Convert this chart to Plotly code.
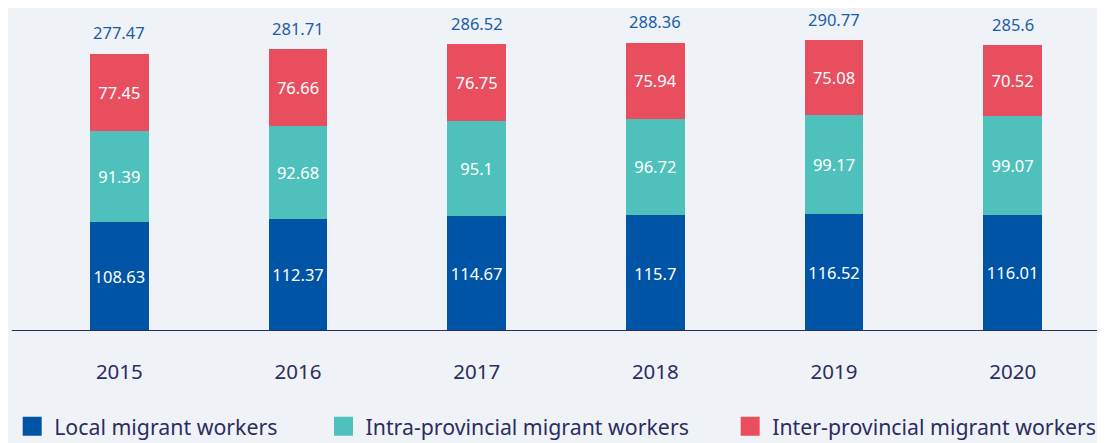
import plotly.graph_objects as go

years = ["2015", "2016", "2017", "2018", "2019", "2020"]
local = [108.63, 112.37, 114.67, 115.7, 116.52, 116.01]
intra = [91.39, 92.68, 95.1, 96.72, 99.17, 99.07]
inter = [77.45, 76.66, 76.75, 75.94, 75.08, 70.52]
totals = [277.47, 281.71, 286.52, 288.36, 290.77, 285.6]
series_names = ["Local migrant workers", "Intra-provincial migrant workers", "Inter-provincial migrant workers"]

colors = ["#0054a6", "#4fc1bd", "#e94e5f"]
bg = "#eff3f7"
navy = "#2d2c5f"
FONT = "Noto Sans, sans-serif"

# the page places the figure 8px from the top-left corner; size it to fit
W, H = 1097, 435

fig = go.Figure()
for vals, col in zip([local, intra, inter], colors):
    fig.add_trace(go.Bar(
        x=years, y=vals, marker=dict(color=col, line=dict(width=0)),
        text=[f"{v:g}" for v in vals], textposition="inside",
        insidetextanchor="middle",
        textfont=dict(color="white", size=16.5, family=FONT),
        showlegend=False, hoverinfo="skip",
    ))

legend_names = ["legend", "legend2", "legend3"]
for name, col, lg in zip(series_names, colors, legend_names):
    fig.add_trace(go.Scatter(
        x=[years[0]], y=[None], mode="markers", name=name, legend=lg,
        marker=dict(symbol="square", size=16, color=col, line=dict(color=col, width=3)),
    ))

for i, t in enumerate(totals):
    fig.add_annotation(x=i, y=t, text=f"{t:g}", showarrow=False,
                       yanchor="middle", yshift=21, borderpad=0,
                       font=dict(color="#1b5ea8", size=16.5, family=FONT))

fig.add_shape(type="line", xref="paper", yref="y", x0=-0.017, x1=1.01, y0=0, y1=0,
              line=dict(color=navy, width=2))

leg_common = dict(orientation="h", xref="container", yref="container",
                  yanchor="middle", y=0.038, xanchor="left", itemwidth=34,
                  font=dict(size=21.3, color=navy, family=FONT), bgcolor="rgba(0,0,0,0)")
fig.update_layout(
    width=W, height=H,
    margin=dict(l=22, r=3, t=23, b=112, autoexpand=False),
    paper_bgcolor=bg, plot_bgcolor=bg,
    barmode="stack", bargap=0.67,
    showlegend=True,
    legend=dict(x=0.002, **leg_common),
    legend2=dict(x=0.2858, **leg_common),
    legend3=dict(x=0.6565, **leg_common),
    xaxis=dict(type="category", categoryorder="array", categoryarray=years,
               range=[-0.5, len(years) - 0.5], autorange=False,
               showline=False, showgrid=False, zeroline=False, ticks="",
               tickfont=dict(size=20.5, color=navy, family=FONT), ticklabelstandoff=26),
    yaxis=dict(range=[0, 300], autorange=False, visible=False, showgrid=False, zeroline=False),
)

fig.write_html("out.html")
